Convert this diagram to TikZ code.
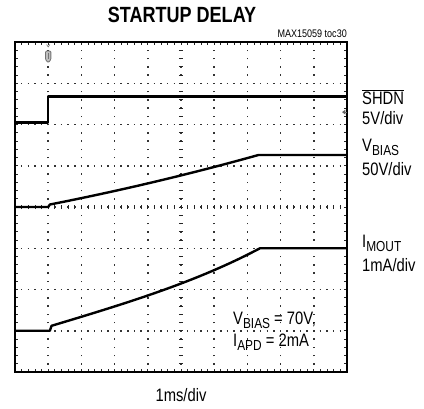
\documentclass[tikz,border=0pt]{standalone}
\usepackage{fontspec}
\setmainfont{Liberation Sans}[FakeStretch=0.82]
\usetikzlibrary{positioning}
\newcommand\lowidx[1]{\raisebox{-0.22em}{\fontsize{14.5}{14}\selectfont #1}}
\tikzset{
 lbl/.style={inner sep=0pt,anchor=west,font=\fontsize{18}{21}\selectfont},
 trace/.style={line width=2.4pt,line join=round},
 hdots/.style={black!80,line width=1.5pt,dash pattern=on 1.5pt off 5.14pt,dash phase=0.75pt},
 vdots/.style={black!80,line width=1.5pt,dash pattern=on 1.5pt off 6.75pt,dash phase=0.75pt},
 tickmark/.style={black!85,line width=0.8pt}
}
\begin{document}
\begin{tikzpicture}[x=1pt,y=-1pt]
 \useasboundingbox (0,0) rectangle (424,408);
 \node (title) [inner sep=0pt,font=\fontsize{22}{26}\selectfont\bfseries] at (182,15) {STARTUP DELAY};
 \node (tag) [inner sep=0pt,anchor=east,font=\fontsize{11}{12}\selectfont] at (347,34) {MAX15059 toc30};
 \node (timebase) [inner sep=0pt,font=\fontsize{18}{21}\selectfont] at (181,395) {1ms/div};
 \begin{scope}[shift={(15,372)},x=33.2pt,y=41.25pt]
  % dotted grid
  \foreach \j in {1,2,3,4,5,6,7}
   \draw[hdots] (0,\j) -- (10,\j);
  \foreach \i in {1,2,3,4,5,6,7,8,9}
   \draw[vdots] (\i,0) -- (\i,8);
  % centre axes and frame ticks
  \foreach \i in {1,...,49} {
   \draw[tickmark] (\i*0.2,4) +(0,-2.2pt) -- +(0,2.2pt);
   \draw[tickmark] (\i*0.2,0) -- +(0,3pt);
   \draw[tickmark] (\i*0.2,8) -- +(0,-3pt);
  }
  \foreach \j in {1,...,39} {
   \draw[tickmark] (5,\j*0.2) +(-2.2pt,0) -- +(2.2pt,0);
   \draw[tickmark] (0,\j*0.2) -- +(3pt,0);
   \draw[tickmark] (10,\j*0.2) -- +(-3pt,0);
  }
  \draw[line width=2pt] (0,0) rectangle (10,8);
  % traces
  \draw[trace] (0,6.05) -- (1,6.05) -- (1,6.68) -- (10,6.68);
  \draw[trace] (0,4.0) -- (1,4.0) -- (1.05,4.06) .. controls (3.5,4.45) and (5.5,4.85) .. (7.33,5.26) -- (10,5.26);
  \draw[trace] (0,1.0) -- (1.05,1.0) -- (1.1,1.12) .. controls (3.5,1.7) and (5.5,2.2) .. (7.38,3.0) -- (10,3.0);
  % markers
  \draw[black!55,fill=black!25,line width=0.8pt,rounded corners=1pt] (0.92,7.78) -- (0.92,7.57) -- (1,7.5) -- (1.08,7.57) -- (1.08,7.78) -- cycle;
  \draw[black!55,line width=0.8pt] (1,7.74) -- (1,7.6);
  \draw[black!55,line width=0.6pt] (0.95,7.94) -- (1,7.88) -- (1.05,7.94);
  \fill[black!60] (9.85,6.3) -- (9.95,6.36) -- (9.95,6.24) -- cycle;
  \draw[black!60,line width=0.8pt] (9.95,6.3) -- (10,6.3);
 \end{scope}
 \node (shdn) [lbl] at (362,97) {$\overline{\mbox{SHDN}}$};
 \node (shdnscale) [lbl] at (362,118) {5V/div};
 \node (vbias) [lbl] at (362,147) {V\lowidx{BIAS}};
 \node (vbiasscale) [lbl] at (362,169) {50V/div};
 \node (imout) [lbl] at (362,243) {I\lowidx{MOUT}};
 \node (imoutscale) [lbl] at (362,265) {1mA/div};
 \node (cond1) [lbl] at (233,320) {V\lowidx{BIAS} = 70V,};
 \node (cond2) [lbl] at (233,342) {I\lowidx{APD} = 2mA};
\end{tikzpicture}
\end{document}
